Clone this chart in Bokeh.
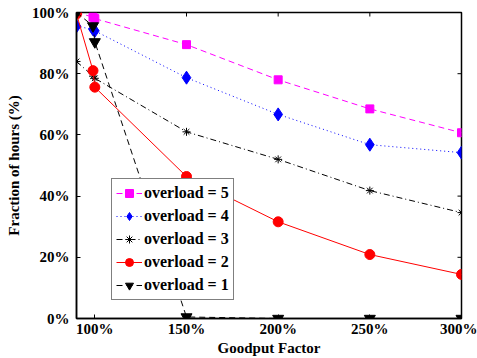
import math
from bokeh.plotting import figure
from bokeh.models import (Range1d, FixedTicker, PrintfTickFormatter, Legend, LegendItem)
from bokeh.embed import file_html
from bokeh.resources import INLINE

# ---- data ----
goodput = [90, 99, 100, 150, 200, 250, 300]
overload5 = [100, 98.5, 98, 89.5, 78, 68.5, 60.7]
overload4 = [95.5, 94.5, 94, 78.7, 66.7, 56.8, 54.2]
overload3 = [84, 79.2, 78.5, 61, 52, 41.8, 34.6]
overload2 = [99.5, 81, 75.6, 46.4, 31.6, 20.9, 14.4]
overload1 = [100, 95.6, 90.4, 0.5, 0, 0, 0]
x_ticks = [100, 150, 200, 250, 300]
y_ticks = [0, 20, 40, 60, 80, 100]
labels = ["overload = 5", "overload = 4", "overload = 3", "overload = 2", "overload = 1"]

FONT = "Liberation Serif"
X0, X1 = 90, 300
Y0, Y1 = 0, 100

p = figure(width=477, height=358, output_backend="svg", toolbar_location=None,
           x_range=Range1d(X0, X1), y_range=Range1d(Y0, Y1),
           min_border_left=76, min_border_right=16, min_border_top=12, min_border_bottom=40)
p.grid.visible = False
p.outline_line_color = "black"
p.outline_line_width = 1.5
p.background_fill_color = "white"

for ax in (p.xaxis[0], p.yaxis[0]):
    ax.major_tick_in = 4
    ax.major_tick_out = 0
    ax.minor_tick_line_color = None
    ax.axis_line_width = 1.5
    ax.major_tick_line_width = 1
    ax.major_label_text_font = FONT
    ax.major_label_text_font_style = "bold"
    ax.major_label_text_font_size = "15px"
    ax.major_label_text_color = "black"
    ax.axis_label_text_font = FONT
    ax.axis_label_text_font_style = "bold"
    ax.axis_label_text_font_size = "15px"
    ax.axis_label_text_color = "black"

p.xaxis[0].ticker = FixedTicker(ticks=x_ticks)
p.yaxis[0].ticker = FixedTicker(ticks=y_ticks)
p.xaxis[0].formatter = PrintfTickFormatter(format="%d%%")
p.yaxis[0].formatter = PrintfTickFormatter(format="%d%%")
p.xaxis[0].axis_label = "Goodput Factor"
p.yaxis[0].axis_label = "Fraction of hours (%)"
p.xaxis[0].major_label_standoff = 2
p.xaxis[0].axis_label_standoff = 0
p.yaxis[0].major_label_standoff = 7
p.yaxis[0].axis_label_standoff = 7

# inner tick marks on the right and top edges (clipped to the frame)
p.scatter([X1] * len(y_ticks), y_ticks, marker="dash", size=8, line_color="black", line_width=1)
p.scatter(x_ticks, [Y1] * len(x_ticks), marker="dash", angle=math.pi / 2, size=8,
          line_color="black", line_width=1)

# overload = 5
l5 = p.line(goodput, overload5, line_color="#ff00ff", line_width=1, line_dash="6 4")
m5 = p.scatter(goodput, overload5, marker="square", size=8, fill_color="#ff00ff",
               line_color="#ff00ff")
# overload = 4
l4 = p.line(goodput, overload4, line_color="#0000ff", line_width=1, line_dash="1 3")
m4 = p.scatter(goodput, overload4, marker="diamond", size=13, fill_color="#0000ff",
               line_color="#0000ff")
# overload = 3
l3 = p.line(goodput, overload3, line_color="black", line_width=1, line_dash="6 3 1 3")
m3 = p.scatter(goodput, overload3, marker="asterisk", size=8, line_color="black",
               line_width=1)
# overload = 2
l2 = p.line(goodput, overload2, line_color="#ff0000", line_width=1)
m2 = p.scatter(goodput, overload2, marker="circle", size=10, fill_color="#ff0000",
               line_color="#ff0000")
# overload = 1
l1 = p.line(goodput, overload1, line_color="black", line_width=1, line_dash="6 4")
m1 = p.scatter(goodput, overload1, marker="inverted_triangle", size=11, fill_color="black",
               line_color="black")

legend = Legend(items=[
    LegendItem(label=labels[0], renderers=[l5, m5]),
    LegendItem(label=labels[1], renderers=[l4, m4]),
    LegendItem(label=labels[2], renderers=[l3, m3]),
    LegendItem(label=labels[3], renderers=[l2, m2]),
    LegendItem(label=labels[4], renderers=[l1, m1]),
], location=(35, 18))
legend.label_text_font = FONT
legend.label_text_font_style = "bold"
legend.label_text_font_size = "16px"
legend.label_text_color = "black"
legend.border_line_color = "black"
legend.border_line_width = 1.2
legend.background_fill_color = "white"
legend.background_fill_alpha = 1
legend.glyph_width = 26
legend.glyph_height = 20
legend.label_height = 20
legend.spacing = 3
legend.padding = 4
legend.margin = 0
legend.label_standoff = 2
p.add_layout(legend, "center")

open("out.html", "w").write(file_html(p, INLINE))
